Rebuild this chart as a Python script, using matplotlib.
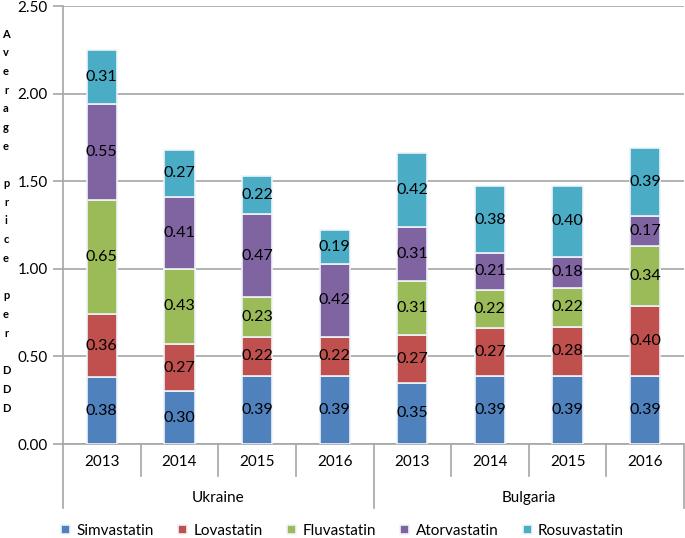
import matplotlib
matplotlib.use("Agg")
import matplotlib.pyplot as plt
import numpy as np
from matplotlib.transforms import blended_transform_factory

plt.rcParams['font.family'] = ['Lato', 'DejaVu Sans']

countries = ["Ukraine", "Bulgaria"]
years = ["2013", "2014", "2015", "2016"]
series_names = ["Simvastatin", "Lovastatin", "Fluvastatin", "Atorvastatin", "Rosuvastatin"]
colors = ["#4F81BD", "#C0504D", "#9BBB59", "#8064A2", "#4BACC6"]

simvastatin = [0.38, 0.30, 0.39, 0.39, 0.35, 0.39, 0.39, 0.39]
lovastatin = [0.36, 0.27, 0.22, 0.22, 0.27, 0.27, 0.28, 0.40]
fluvastatin = [0.65, 0.43, 0.23, 0.00, 0.31, 0.22, 0.22, 0.34]
atorvastatin = [0.55, 0.41, 0.47, 0.42, 0.31, 0.21, 0.18, 0.17]
rosuvastatin = [0.31, 0.27, 0.22, 0.19, 0.42, 0.38, 0.40, 0.39]
series = [simvastatin, lovastatin, fluvastatin, atorvastatin, rosuvastatin]

yticks = [0.0, 0.5, 1.0, 1.5, 2.0, 2.5]
ylabel = "Average price per DDD"

W, H = 685, 538
fig = plt.figure(figsize=(W / 100, H / 100), dpi=100)
ax = fig.add_axes([63 / W, 1 - 444 / H, (684 - 63) / W, (444 - 6) / H])

n = len(countries) * len(years)
x = np.arange(n)
bottom = np.zeros(n)
width = 0.39
for name, vals, c in zip(series_names, series, colors):
    vals = np.array(vals)
    ax.bar(x, vals, width, bottom=bottom, color=c, edgecolor="#eef3f8",
           linewidth=1.2, label=name, zorder=3)
    for xi, b, v in zip(x, bottom, vals):
        if v > 0:
            ax.text(xi, b + v / 2, f"{v:.2f}", ha="center", va="center",
                    fontsize=11.5, color="black", zorder=4)
    bottom += vals

ax.set_xlim(-0.5, n - 0.5)
ax.set_ylim(0, 2.5)
ax.set_yticks(yticks)
ax.set_yticklabels([f"{t:.2f}" for t in yticks], fontsize=11)
ax.yaxis.grid(True, color="#a6a6a6", linewidth=1.2, zorder=0)
ax.set_axisbelow(True)
for s in ["top", "right"]:
    ax.spines[s].set_visible(False)
ax.spines["left"].set_color("#a6a6a6")
ax.spines["left"].set_linewidth(1.2)
ax.spines["bottom"].set_color("#a6a6a6")
ax.spines["bottom"].set_linewidth(1.2)
ax.tick_params(axis="y", length=7, color="#a6a6a6", width=1.2, pad=4)
ax.set_xticks([])

# grouped category axis
trans = blended_transform_factory(ax.transData, ax.transAxes)
px = 1 / (444 - 6)
for i in range(n + 1):
    xe = i - 0.5
    long = (i % len(years) == 0)
    y_end = -(508 - 444) * px if long else -(476 - 444) * px
    ax.plot([xe, xe], [0, y_end], transform=trans, color="#a6a6a6",
            linewidth=1.2, clip_on=False)
labels_years = years * len(countries)
for xi, lab in zip(x, labels_years):
    ax.text(xi, -(462 - 444) * px, lab, transform=trans, ha="center",
            va="center", fontsize=11)
for ci, cname in enumerate(countries):
    xc = ci * len(years) + (len(years) - 1) / 2
    ax.text(xc, -(498 - 444) * px, cname, transform=trans, ha="center",
            va="center", fontsize=11)

# vertical stacked-letter y label
y0, step = 34, 18.7
for k, ch in enumerate(ylabel):
    if ch != " ":
        fig.text(6 / W, 1 - (y0 + k * step) / H, ch, ha="center", va="center",
                 fontsize=8, fontweight="bold")

leg = fig.legend(loc="center", bbox_to_anchor=(0.5, 1 - 531 / H), ncol=5,
                 frameon=False, fontsize=11, handlelength=0.6, handleheight=0.6,
                 handletextpad=0.4, columnspacing=1.6)

fig.savefig("out.png", dpi=100)
